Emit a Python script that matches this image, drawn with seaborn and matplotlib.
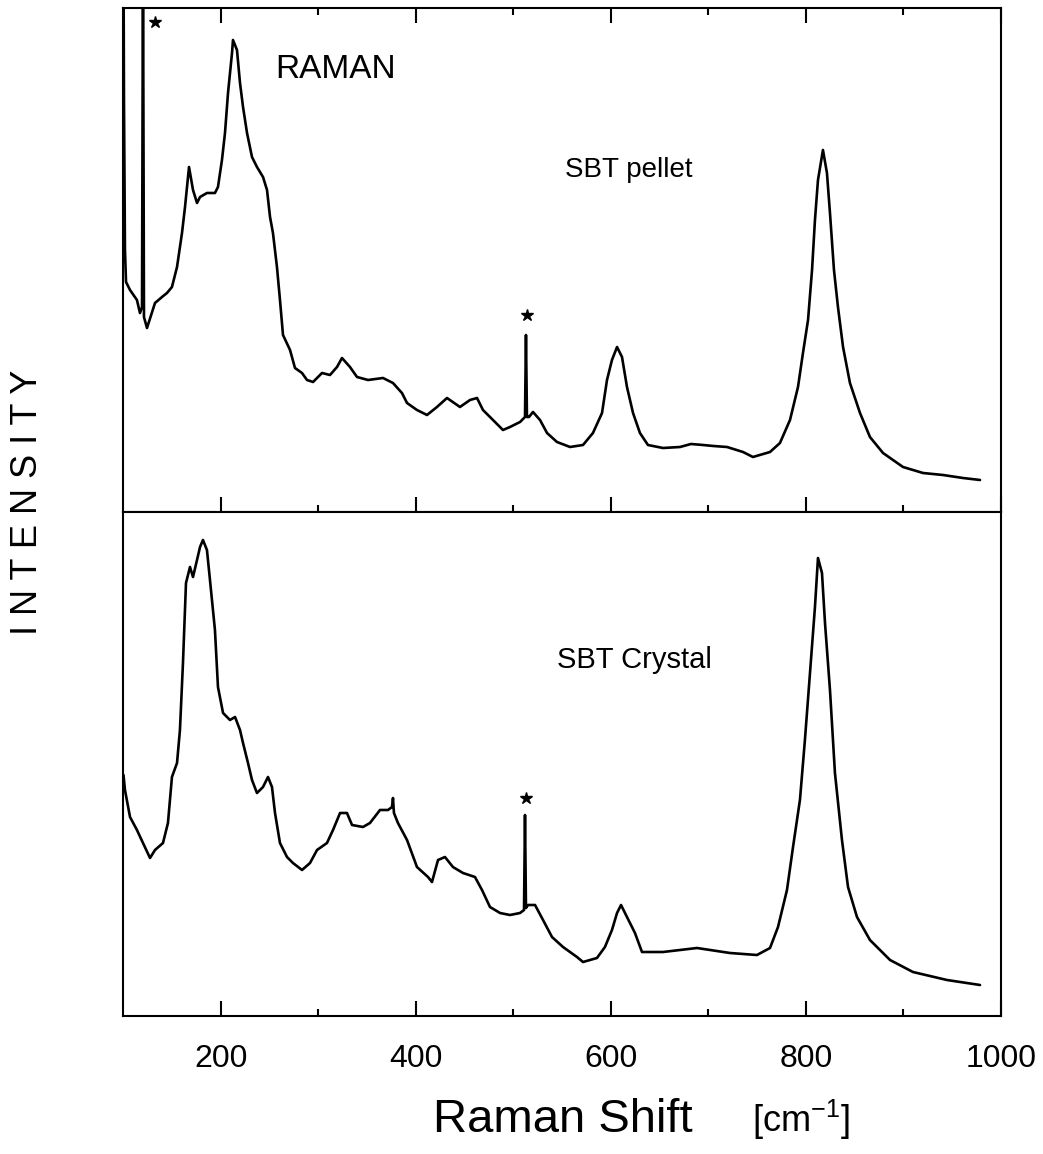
import matplotlib
matplotlib.use("Agg")
import matplotlib.pyplot as plt
import seaborn as sns
import pandas as pd
from matplotlib.ticker import FixedLocator

sns.set_theme(style="white")
plt.rcParams["font.family"] = ["Liberation Sans", "DejaVu Sans"]
plt.rcParams["mathtext.default"] = "regular"

# ---------------- data (Raman shift in cm-1, intensity in arbitrary units) ----------------
pellet_shift = [100.0, 100.5, 101.5, 102.6, 106.7, 113.8, 116.9, 119.0, 120.0, 121.0, 124.1,
                132.3, 139.5, 144.6, 149.7, 154.9, 160.0, 163.1, 167.2, 171.3, 175.4, 178.5,
                185.6, 193.8, 196.9, 201.0, 204.1, 207.2, 211.3, 212.3, 216.4, 219.5, 222.6,
                226.7, 231.8, 236.9, 243.1, 247.2, 250.3, 253.3, 257.4, 260.5, 263.6, 270.8,
                275.9, 283.1, 288.2, 294.4, 303.6, 311.8, 319.0, 324.1, 332.3, 339.5, 350.8,
                366.2, 376.4, 385.6, 390.8, 401.0, 411.3, 421.5, 431.8, 445.1, 455.4, 462.6,
                468.7, 475.9, 489.2, 496.4, 506.7, 511.8, 512.8, 513.8, 514.8, 515.9, 520.0,
                527.2, 534.4, 544.6, 558.0, 571.3, 581.5, 590.8, 595.9, 601.0, 606.2, 611.3,
                616.4, 622.6, 629.7, 637.9, 653.3, 670.8, 682.0, 694.4, 705.0, 719.0, 735.4,
                745.6, 763.1, 773.3, 783.6, 791.8, 796.9, 802.1, 806.2, 809.2, 812.3, 817.4,
                821.5, 824.6, 828.7, 832.8, 838.0, 845.1, 855.4, 865.6, 879.0, 899.5, 920.0,
                940.5, 961.0, 978.5]
pellet_int = [560, 412, 262, 230, 222, 212, 199, 205, 560, 195, 184,
              209, 215, 219, 225, 245, 279, 305, 345, 322, 309, 315,
              319, 319, 325, 352, 379, 419, 459, 472, 462, 429, 405,
              379, 355, 345, 335, 322, 295, 279, 245, 212, 177, 162,
              144, 139, 132, 130, 139, 137, 145, 154, 145, 135, 132,
              134, 129, 119, 109, 102, 97, 105, 114, 105, 112, 114,
              102, 95, 82, 85, 90, 95, 177, 95, 95, 95, 100,
              92, 79, 70, 65, 67, 79, 99, 132, 152, 165, 155,
              125, 99, 79, 67, 64, 65, 68, 67, 66, 65, 60,
              55, 60, 69, 92, 125, 159, 192, 242, 292, 332, 362,
              339, 299, 242, 205, 165, 129, 99, 75, 59, 45, 39,
              37, 34, 32]

crystal_shift = [100.0, 101.5, 106.7, 113.8, 120.0, 127.2, 132.3, 140.5, 145.6, 149.7, 154.9,
                 157.9, 161.0, 164.1, 168.2, 171.3, 175.4, 178.5, 181.5, 185.6, 188.7, 193.8,
                 196.9, 202.1, 209.2, 214.4, 219.5, 222.6, 227.7, 231.8, 236.9, 243.1, 248.2,
                 252.3, 255.4, 260.5, 267.7, 273.8, 283.1, 291.3, 298.5, 308.7, 314.9, 322.1,
                 329.2, 334.4, 345.6, 352.8, 363.1, 371.3, 375.4, 376.4, 377.4, 381.5, 390.8,
                 401.0, 412.3, 416.4, 422.6, 429.7, 437.9, 448.2, 460.5, 467.7, 475.9, 486.2,
                 496.4, 506.7, 510.8, 511.8, 512.8, 514.9, 522.1, 530.3, 539.5, 550.8, 565.1,
                 571.3, 585.6, 593.8, 601.0, 606.2, 610.3, 616.4, 624.6, 631.8, 653.3, 688.2,
                 722.1, 749.7, 763.1, 771.3, 780.5, 786.7, 793.8, 798.9, 804.1, 809.2, 812.3,
                 816.4, 819.5, 824.6, 829.7, 836.9, 843.1, 852.3, 865.6, 886.2, 909.7, 944.6,
                 978.5]
crystal_int = [243, 228, 201, 188, 175, 160, 168, 175, 195, 241, 255,
               288, 355, 435, 451, 441, 458, 471, 478, 468, 438, 388,
               331, 305, 298, 301, 288, 275, 255, 238, 225, 231, 241,
               231, 205, 175, 161, 155, 148, 155, 168, 175, 188, 205,
               205, 193, 191, 195, 208, 208, 211, 220, 205, 195, 178,
               151, 141, 136, 158, 161, 151, 145, 141, 128, 111, 105,
               103, 105, 108, 203, 110, 113, 113, 98, 81, 71, 61,
               56, 60, 71, 88, 105, 113, 101, 85, 66, 66, 70,
               65, 63, 70, 91, 128, 171, 218, 278, 345, 411, 460,
               445, 395, 328, 245, 178, 131, 101, 78, 58, 46, 38,
               33]

star_pellet_shift = [132.3, 513.8]
star_pellet_int = [490, 197]
star_crystal_shift = [512.8]
star_crystal_int = [220]

major_ticks = [200, 400, 600, 800, 1000]
minor_ticks = [300, 500, 700, 900]
tick_labels = ["200", "400", "600", "800", "1000"]
sample_labels = ["SBT pellet", "SBT Crystal"]

pellet = pd.DataFrame({"shift": pellet_shift, "intensity": pellet_int})
crystal = pd.DataFrame({"shift": crystal_shift, "intensity": crystal_int})

fig = plt.figure(figsize=(10.43, 11.54), dpi=100)
ax1 = fig.add_axes([0.1184, 0.55633, 0.84132, 0.43674])
ax2 = fig.add_axes([0.1184, 0.11958, 0.84132, 0.43675])

sns.lineplot(data=pellet, x="shift", y="intensity", ax=ax1, color="black",
             lw=1.9, estimator=None, sort=False)
sns.lineplot(data=crystal, x="shift", y="intensity", ax=ax2, color="black",
             lw=1.9, estimator=None, sort=False)

ax1.plot(star_pellet_shift, star_pellet_int, ls="none", marker="*", ms=9, color="black")
ax2.plot(star_crystal_shift, star_crystal_int, ls="none", marker="*", ms=9, color="black")

ax1.set_ylim(0, 504)
ax2.set_ylim(2, 506)

for ax in (ax1, ax2):
    ax.set_xlim(100, 1000)
    ax.set_yticks([])
    ax.set_xlabel("")
    ax.set_ylabel("")
    ax.xaxis.set_major_locator(FixedLocator(major_ticks))
    ax.xaxis.set_minor_locator(FixedLocator(minor_ticks))
    for s in ax.spines.values():
        s.set_color("black")
        s.set_linewidth(1.5)
        s.set_visible(True)
    ax.set_facecolor("white")

ax1.tick_params(axis="x", which="major", direction="in", length=11, width=1.5,
                top=True, bottom=True, labelbottom=False, color="black")
ax1.tick_params(axis="x", which="minor", direction="in", length=5, width=1.5,
                top=True, bottom=True, color="black")
ax2.tick_params(axis="x", which="major", direction="in", length=11, width=1.5,
                top=False, bottom=True, labelbottom=True, labelsize=23, pad=20,
                color="black", labelcolor="black")
ax2.tick_params(axis="x", which="minor", direction="in", length=5, width=1.5,
                top=False, bottom=True, color="black")
ax2.set_xticklabels(tick_labels)

ax1.text(255.4, 434, "RAMAN", fontsize=24, color="black", ha="left", va="baseline")
ax1.text(552.8, 335, sample_labels[0], fontsize=20, color="black", ha="left", va="baseline")
ax2.text(544.6, 350, sample_labels[1], fontsize=21, color="black", ha="left", va="baseline")

fig.text(28 / 1043, 1 - 502 / 1154, "I N T E N S I T Y", rotation=90, ha="center",
         va="center", fontsize=26, color="black")
fig.text(433 / 1043, 1 - 1132 / 1154, "Raman Shift", fontsize=34, ha="left",
         va="baseline", color="black")
fig.text(752 / 1043, 1 - 1132 / 1154, "[cm$^{-1}$]", fontsize=26, ha="left",
         va="baseline", color="black")

fig.savefig("out.png", dpi=100, facecolor="white")
